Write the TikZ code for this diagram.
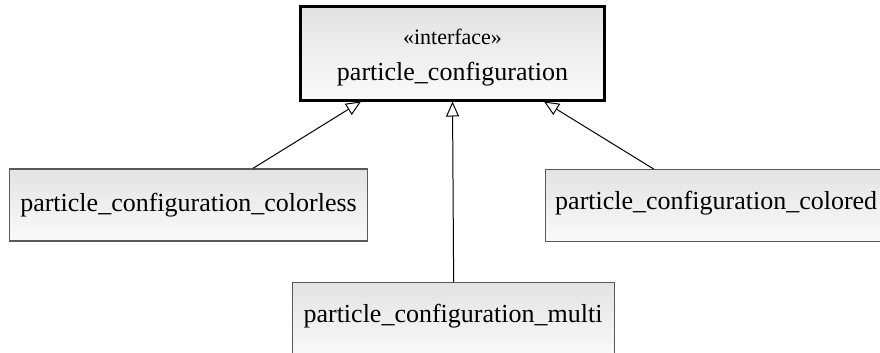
\documentclass[tikz,border=0pt]{standalone}
\usepackage{fontspec}
\setmainfont{Liberation Serif}
\usetikzlibrary{arrows.meta}

\tikzset{
  classbox/.style={rectangle, draw=black!65, line width=1.3pt,
    top color=black!11, bottom color=black!2, inner sep=0pt},
  ifacebox/.style={classbox, draw=black, line width=3pt},
  classname/.style={inner sep=0pt, font=\fontsize{26}{30}\selectfont},
  stereo/.style={inner sep=0pt, font=\fontsize{22}{25}\selectfont},
  inherit/.style={draw=black, line width=1pt,
    -{Triangle[open, length=15pt, width=13pt, fill=white]}},
}

\begin{document}
\begin{tikzpicture}[x=1pt, y=-1pt]
  \useasboundingbox (0,0) rectangle (880,353);
  \clip (0,0) rectangle (880,353);

  % interface
  \node[ifacebox, minimum width=304pt, minimum height=93pt] (top) at (452.5,53.5) {};
  \node[stereo] (topstereo) at (452.5,37) {«interface»};
  \node[classname] (topname) at (452.5,74) {particle\_configuration};

  % implementations
  \node[classbox, minimum width=358pt, minimum height=72pt] (lbox) at (188.5,205)
    {\fontsize{26}{30}\selectfont particle\_configuration\_colorless};
  \node[classbox, minimum width=338pt, minimum height=72pt, anchor=north west]
    (rbox) at (545,169) {};
  \node[classname, anchor=west] (rname) at (555,203) {particle\_configuration\_colored};
  \node[classbox, minimum width=322pt, minimum height=74pt, anchor=north west]
    (mbox) at (292,282) {};
  \node[classname] (mname) at (453,316) {particle\_configuration\_multi};

  % generalisation arrows
  \draw[inherit] ([xshift=64.5pt]lbox.north) -- ([xshift=-91.5pt]top.south);
  \draw[inherit] (mbox.north) -- (top.south);
  \draw[inherit] ([xshift=-61pt]rbox.north) -- ([xshift=91.5pt]top.south);
\end{tikzpicture}
\end{document}
